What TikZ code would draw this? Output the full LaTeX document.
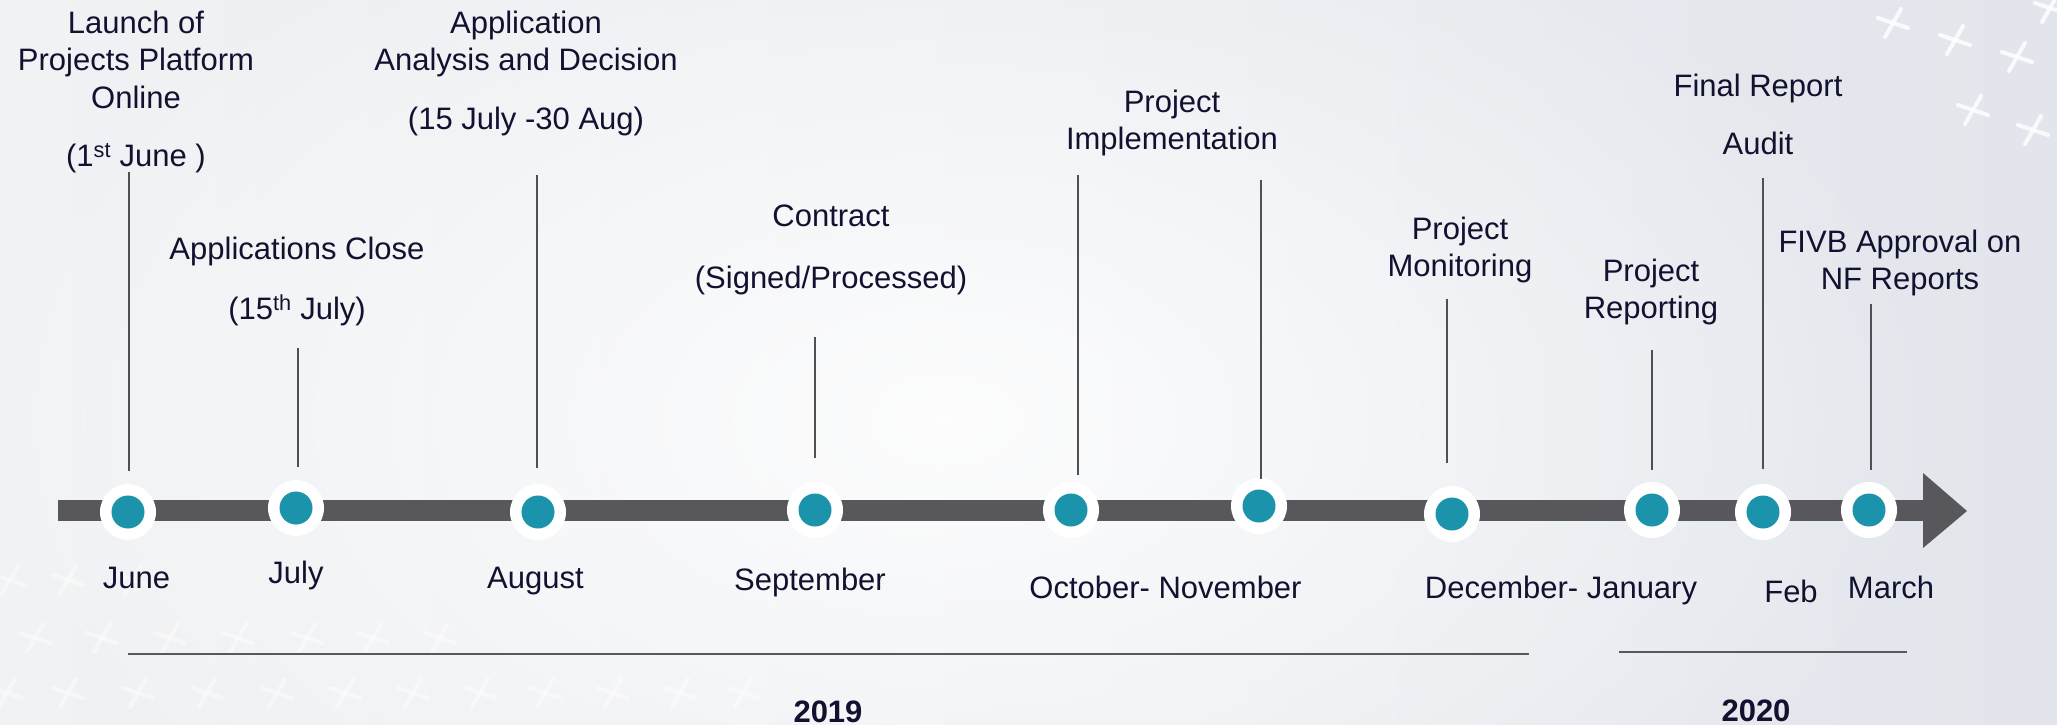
\documentclass[tikz,border=0pt]{standalone}
\usepackage{fontspec}
\setmainfont{Liberation Sans}
\usetikzlibrary{fadings}
\tikzfading[name=glowfade, inner color=transparent!0, outer color=transparent!100]
\definecolor{bar}{HTML}{58575C}
\definecolor{teal}{HTML}{1A93AB}
\definecolor{ink}{HTML}{121230}
\definecolor{stem}{HTML}{505052}
\definecolor{bgl}{HTML}{F0F2F4}
\definecolor{bgm}{HTML}{FAFBFC}
\definecolor{bgr}{HTML}{E2E6EC}
\tikzset{
  txt/.style={font=\fontsize{31}{37.5}\selectfont, text=ink, inner sep=0pt, align=center},
  toplabel/.style={txt, anchor=north},
  month/.style={txt, anchor=base},
  year/.style={font=\fontsize{31}{37.5}\selectfont\bfseries, text=ink, inner sep=0pt, anchor=base},
  ring/.style={circle, fill=white, minimum size=56pt, inner sep=0pt},
  dot/.style={circle, fill=teal, minimum size=33pt, inner sep=0pt},
  stemline/.style={draw=stem, line width=2.2pt},
  yearline/.style={draw=stem!95!white, line width=2.6pt},
  crossline/.style={draw=white, line width=4pt, line cap=round},
  crs/.pic={\path[crossline] (-15,-5) -- (15,5); \path[crossline] (8,-14) -- (-8,14);}
}
\begin{document}
\begin{tikzpicture}[x=1pt, y=-1pt]
\useasboundingbox (0,0) rectangle (2057,725);
\shade[left color=bgl, middle color=bgm, right color=bgr] (0,0) rectangle (2057,725);
\fill[white, path fading=glowfade, opacity=0.9] (950,420) ellipse (1000 and 600);
% decorative crosses
\begin{scope}[opacity=0.45]
\foreach \x in {10,68,133} \pic at (\x,580) {crs};
\foreach \x in {35,102,170,238,307,373,440} \pic at (\x,638) {crs};
\foreach \x in {7,68,138,207,277,345,413,480,545,613,680,743} \pic at (\x,693) {crs};
\end{scope}
\begin{scope}[opacity=0.8]
\foreach \p in {(1893,23),(1955,40),(2017,57),(1973,110),(2033,130),(2050,8)} \pic at \p {crs};
\end{scope}

% main bar and arrow head
\coordinate (barL) at (58,510.5);
\coordinate (barR) at (1925,510.5);
\draw[bar, line width=21pt] (barL) -- (barR);
\coordinate (hA) at (1923,473);
\coordinate (hB) at (1967,511);
\coordinate (hC) at (1923,548);
\fill[bar] (hA) -- (hB) -- (hC) -- cycle;

% milestones: ring + dot
\foreach \n/\x/\y in {jun/128/512, jul/296/508, aug/538/512, sep/815/510, oct/1071/510, nov/1259/506, dec/1452/514, jan/1652/510, feb/1763/512, mar/1869/510}{
  \node[ring] (r\n) at (\x,\y) {};
  \node[dot] (d\n) at (\x,\y) {};
}

% stems
\foreach \n/\x/\a/\b in {jun/129/172/471, jul/298/348/467, aug/537/175/468, sep/815/337/458, oct/1078/175/475, nov/1261/180/479, dec/1447/299/463, jan/1652/350/470, feb/1763/178/469, mar/1871/304/470}{
  \coordinate (s\n t) at (\x,\a);
  \coordinate (s\n b) at (\x,\b);
  \path[stemline] (s\n t) -- (s\n b);
}

% top labels
\node[toplabel] (lLaunch) at (136,10.5) {Launch of\\Projects Platform\\Online\\[21pt](1\textsuperscript{st} June )};
\node[toplabel] (lClose) at (297,236.5) {Applications Close\\[22.5pt](15\textsuperscript{th} July)};
\node[toplabel] (lAnalysis) at (526,10.5) {Application\\Analysis and Decision\\[21.5pt](15 July -30 Aug)};
\node[toplabel] (lContract) at (831,204.5) {Contract\\[24.5pt](Signed/Processed)};
\node[toplabel] (lImpl) at (1172,89.5) {Project\\Implementation};
\node[toplabel] (lMon) at (1460,216.5) {Project\\Monitoring};
\node[toplabel] (lRep) at (1651,258.5) {Project\\Reporting};
\node[toplabel] (lFinal) at (1758,73.5) {Final Report\\[20.5pt]Audit};
\node[toplabel] (lFIVB) at (1900,229.5) {FIVB Approval on\\NF Reports};

% month labels
\node[month] (mJun) at (136.5,588) {June};
\node[month] (mJul) at (296,583) {July};
\node[month] (mAug) at (535.5,588) {August};
\node[month] (mSep) at (810,590) {September};
\node[month] (mOct) at (1165.5,598) {October- November};
\node[month] (mDec) at (1561,598) {December- January};
\node[month] (mFeb) at (1791,602) {Feb};
\node[month] (mMar) at (1891,598) {March};

% year spans
\coordinate (y19a) at (128,654);
\coordinate (y19b) at (1529,654);
\coordinate (y20a) at (1619,652);
\coordinate (y20b) at (1907,652);
\path[yearline] (y19a) -- (y19b);
\path[yearline] (y20a) -- (y20b);
\node[year] (y2019) at (828,722) {2019};
\node[year] (y2020) at (1756,721) {2020};
\end{tikzpicture}
\end{document}
